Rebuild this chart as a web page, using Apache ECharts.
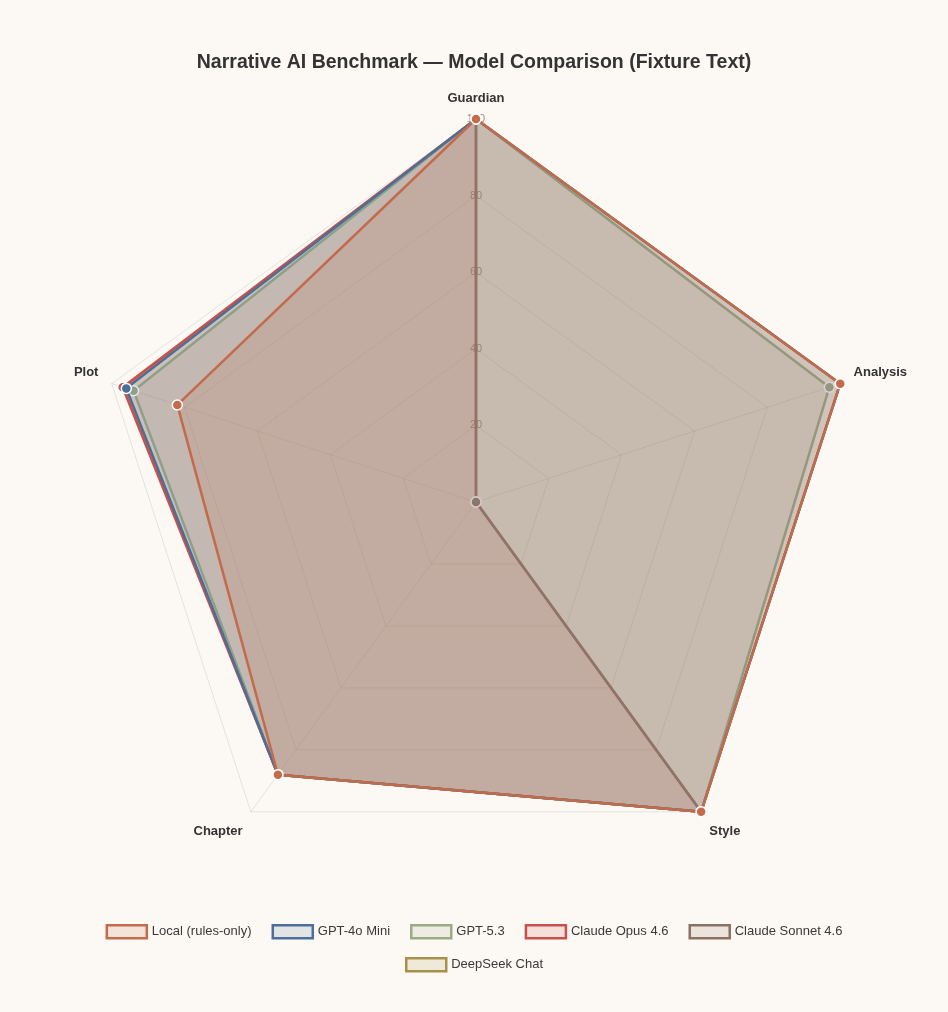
<!DOCTYPE html>
<html>
<head>
<meta charset="utf-8">
<script src="https://cdn.jsdelivr.net/npm/echarts@6/dist/echarts.min.js"></script>
<style>
html,body{margin:0;padding:0;background:#fcf8f3;}
#chart{width:948px;height:1012px;}
</style>
</head>
<body>
<div id="chart"></div>
<script>
// Axes listed counter-clockwise from the top (ECharts radar order)
const categories = ['Guardian', 'Plot', 'Chapter', 'Style', 'Analysis'];
const maxValue = 100;
const tickLabels = ['20', '40', '60', '80', '100'];

const models = ['Local (rules-only)', 'GPT-4o Mini', 'GPT-5.3', 'Claude Opus 4.6', 'Claude Sonnet 4.6', 'DeepSeek Chat'];
const localValues     = [100, 82, 88, 100, 100];
const gpt4oMiniValues = [100, 96, 88, 100, 100];
const gpt53Values     = [100, 94, 88, 100, 97];
const opusValues      = [100, 97, 88, 100, 0];
const sonnetValues    = [100, 0, 0, 100, 0];
const deepseekValues  = [100, 96.5, 88, 100, 100];

const seriesValues = [localValues, gpt4oMiniValues, gpt53Values, opusValues, sonnetValues, deepseekValues];
const colors = ['#c36b4b', '#4b6e9b', '#9bab84', '#c9504b', '#8c7262', '#a8914a'];
// drawing order (higher = on top)
const zOrder = [20, 19, 18, 16, 17, 15];

function hexToRgba(hex, a) {
  const n = parseInt(hex.slice(1), 16);
  return 'rgba(' + ((n >> 16) & 255) + ',' + ((n >> 8) & 255) + ',' + (n & 255) + ',' + a + ')';
}

const nameShift = { Guardian: 'top', Analysis: 'up', Plot: 'up', Style: 'down', Chapter: 'down' };
const FONT = 'Liberation Sans, Arial, Helvetica, sans-serif';
const nameStyle = { fontFamily: FONT, fontSize: 13, fontWeight: 'bold', color: '#333333' };

function legendItems(list) {
  return list.map(m => {
    const i = models.indexOf(m);
    return {
      name: m,
      icon: 'rect',
      itemStyle: { color: hexToRgba(colors[i], 0.15), borderColor: colors[i], borderWidth: 2.5 }
    };
  });
}
const legendBase = {
  left: 'center',
  itemWidth: 40,
  itemHeight: 13,
  itemGap: 20,
  textStyle: { fontFamily: FONT, fontSize: 13, color: '#3a3a3a' }
};

const chart = echarts.init(document.getElementById('chart'));
const option = {
  backgroundColor: '#fcf8f3',
  animation: false,
  title: {
    text: 'Narrative AI Benchmark — Model Comparison (Fixture Text)',
    left: 'center',
    top: 48,
    textStyle: { fontFamily: FONT, fontSize: 19.5, fontWeight: 'bold', color: '#333333' }
  },
  legend: [
    Object.assign({}, legendBase, { top: 919, data: legendItems(models.slice(0, 5)) }),
    Object.assign({}, legendBase, { top: 952, data: legendItems(models.slice(5)) })
  ],
  radar: {
    center: [476, 502],
    radius: 383,
    shape: 'polygon',
    splitNumber: tickLabels.length,
    indicator: categories.map((c, i) => ({
      name: c,
      max: maxValue,
      min: 0,
      axisLabel: {
        show: i === 0,
        showMinLabel: false,
        margin: 0,
        align: 'center',
        verticalAlign: 'middle',
        fontFamily: FONT,
        fontSize: 11,
        color: 'rgba(120,104,92,0.75)',
        formatter: function (v) { return tickLabels.indexOf(String(v)) >= 0 ? String(v) : ''; }
      }
    })),
    nameGap: 14,
    axisName: Object.assign({}, nameStyle, {
      formatter: function (name) { return '{' + nameShift[name] + '|' + name + '}'; },
      rich: {
        top: Object.assign({}, nameStyle),
        up: Object.assign({}, nameStyle, { padding: [0, 0, 14, 0] }),
        down: Object.assign({}, nameStyle, { padding: [16, 0, 0, 0] })
      }
    }),
    splitArea: { show: false },
    splitLine: { lineStyle: { color: 'rgba(0,0,0,0.09)', width: 1 } },
    axisLine: { lineStyle: { color: 'rgba(0,0,0,0.09)', width: 1 } },
    axisTick: { show: false },
    axisLabel: { show: false }
  },
  series: models.map((m, i) => ({
    type: 'radar',
    name: m,
    z: zOrder[i],
    symbol: 'circle',
    symbolSize: 10,
    data: [{
      name: m,
      value: seriesValues[i],
      lineStyle: { color: colors[i], width: 2.5 },
      itemStyle: { color: colors[i], borderColor: '#ffffff', borderWidth: 1.5 },
      areaStyle: { color: hexToRgba(colors[i], 0.23) }
    }]
  }))
};
chart.setOption(option);
</script>
</body>
</html>
